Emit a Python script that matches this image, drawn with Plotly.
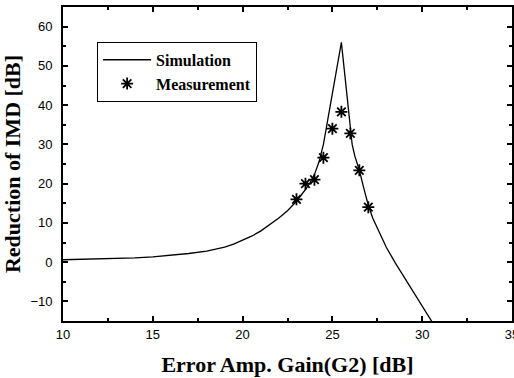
import plotly.graph_objects as go

# Simulation curve
sim_gain = [10, 11, 12, 13, 14, 15, 16, 17, 18, 18.5, 19, 19.5, 20, 20.5, 21, 21.5, 22, 22.5,
            23, 23.5, 23.75, 24, 24.25, 24.5, 24.75, 25, 25.25, 25.5, 25.65, 25.8, 25.9, 26,
            26.1, 26.25, 26.5, 26.75, 27, 27.25, 27.5, 27.75, 28, 28.5, 29, 29.5, 30, 30.6]
sim_red = [0.6, 0.7, 0.8, 0.95, 1.1, 1.35, 1.7, 2.2, 2.8, 3.25, 3.8, 4.6, 5.5, 6.6, 7.9, 9.5,
           11.2, 13.1, 15.5, 18.5, 20.2, 22.3, 25.5, 30, 36.5, 43, 49.5, 56, 49.5, 43, 38, 33.5,
           30, 27, 23.4, 18.8, 14.5, 11.2, 8.6, 6.0, 3.8, -0.2, -3.9, -7.7, -11.5, -15.6]

# Measurement points
meas_gain = [23.0, 23.5, 24.0, 24.5, 25.0, 25.5, 26.0, 26.5, 27.0]
meas_red = [16.0, 20.0, 21.0, 26.6, 34.0, 38.3, 32.8, 23.4, 14.0]

x_ticks = [10, 15, 20, 25, 30, 35]
y_ticks = [-10, 0, 10, 20, 30, 40, 50, 60]

serif = "Times New Roman, Liberation Serif, serif"
sans = "Arial, Liberation Sans, sans-serif"

fig = go.Figure()
fig.add_trace(go.Scatter(x=sim_gain, y=sim_red, mode="lines", name="Simulation",
                         line=dict(color="black", width=1.3)))
fig.add_trace(go.Scatter(x=meas_gain, y=meas_red, mode="markers", name="Measurement",
                         marker=dict(symbol="asterisk-open", size=10, color="black",
                                     line=dict(color="black", width=1.8))))

axis_common = dict(showline=True, linecolor="black", linewidth=1.8, mirror="allticks",
                   ticks="inside", ticklen=5, tickwidth=1.5, tickcolor="black",
                   showgrid=False, zeroline=False, ticklabeloverflow="allow",
                   automargin=False,
                   tickfont=dict(family=sans, size=13, color="black"))

fig.update_layout(
    width=514, height=378,
    margin=dict(l=63, r=2, t=7, b=57),
    plot_bgcolor="white", paper_bgcolor="white",
    showlegend=True,
    legend=dict(x=0.076, y=0.889, xanchor="left", yanchor="top",
                bordercolor="black", borderwidth=1, bgcolor="white",
                font=dict(family=serif, size=16, color="black", weight="bold"),
                tracegroupgap=0, itemwidth=48),
    xaxis=dict(range=[10, 35], tickvals=x_ticks, **axis_common,
               minor=dict(dtick=2.5, ticks="inside", ticklen=3, tickcolor="black"),
               title=dict(text="Error Amp. Gain(G2) [dB]", standoff=16,
                          font=dict(family=serif, size=22, color="black", weight="bold"))),
    yaxis=dict(range=[-15, 65], tickvals=y_ticks, **axis_common, ticklabelstandoff=6,
               minor=dict(dtick=5, ticks="inside", ticklen=3, tickcolor="black"),
               title=dict(text="Reduction of IMD [dB]", standoff=6,
                          font=dict(family=serif, size=22, color="black", weight="bold"))),
)

fig.write_html("out.html")
